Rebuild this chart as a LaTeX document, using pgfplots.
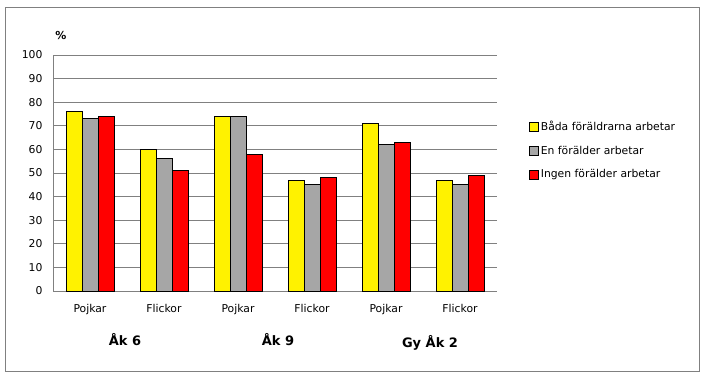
\documentclass[border=0pt]{standalone}
\usepackage{pgfplots}
\pgfplotsset{compat=1.18}
\usepackage{fontspec}
\setmainfont{DejaVu Sans}
\definecolor{ggray}{RGB}{128,128,128}
\definecolor{bgray}{RGB}{166,166,166}
\begin{document}
\begin{tikzpicture}[x=1bp,y=1bp]
\path[use as bounding box] (0,0) rectangle (705,377);
\draw[ggray,line width=0.8bp] (5,6) rectangle (699.5,370);
\begin{axis}[
  at={(53bp,86bp)}, anchor=south west,
  scale only axis, width=444bp, height=236bp,
  xmin=-0.5, xmax=5.5, ymin=0, ymax=100,
  ytick={0,10,...,100},
  xtick=data,
  xticklabels={Pojkar,Flickor,Pojkar,Flickor,Pojkar,Flickor},
  axis x line*=bottom, axis y line*=left,
  axis line style={ggray,line width=0.8bp},
  ymajorgrids, grid style={ggray,line width=0.8bp},
  major tick length=0pt,
  ybar=0pt, bar width=16bp,
  tick label style={font=\fontsize{10.8bp}{12bp}\selectfont, black},
  /pgf/number format/assume math mode=true,
  yticklabel style={xshift=-7bp},
  xticklabel style={yshift=-10bp},
  every axis plot/.append style={draw=black, line width=0.8bp},
  legend style={at={(1.065,0.597)}, anchor=west, draw=none, fill=none,
    font=\fontsize{10.8bp}{12bp}\selectfont, row sep=10bp,
    /tikz/every even column/.append style={column sep=2bp}},
  legend cell align=left,
  legend image code/.code={\draw[#1,line width=0.8bp] (0bp,-4.5bp) rectangle (9bp,4.5bp);},
]
\addplot[fill=yellow] coordinates {(0,76) (1,60) (2,74) (3,47) (4,71) (5,47)};
\addplot[fill=bgray] coordinates {(0,73) (1,56) (2,74) (3,45) (4,62) (5,45)};
\addplot[fill=red] coordinates {(0,74) (1,51) (2,58) (3,48) (4,63) (5,49)};
\legend{Båda föräldrarna arbetar, En förälder arbetar, Ingen förälder arbetar}
\end{axis}
\node[font=\bfseries\fontsize{11bp}{12bp}\selectfont] at (61,342) {\%};
\node[font=\bfseries\fontsize{13bp}{14bp}\selectfont] at (125,37) {Åk 6};
\node[font=\bfseries\fontsize{13bp}{14bp}\selectfont] at (278,37) {Åk 9};
\node[font=\bfseries\fontsize{13bp}{14bp}\selectfont] at (430,34) {Gy Åk 2};
\end{tikzpicture}
\end{document}
